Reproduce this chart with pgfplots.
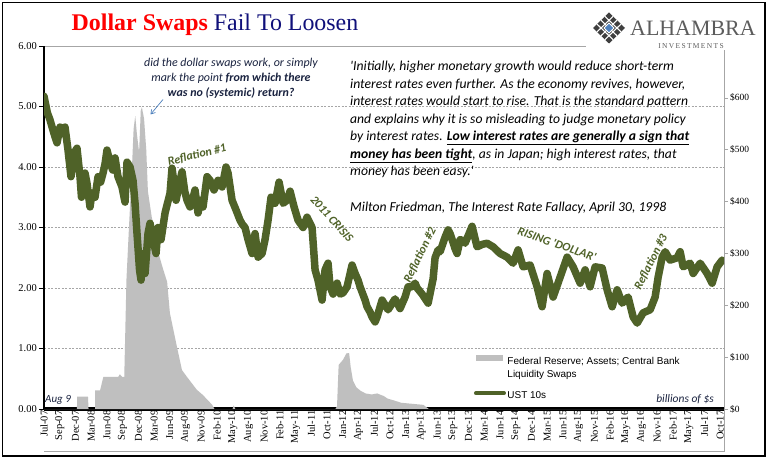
\documentclass[border=0pt]{standalone}
\usepackage{pgfplots}
\pgfplotsset{compat=1.18}
\usepackage{pgfplotstable}
\usepackage{fontspec}
\setmainfont{Liberation Serif}
\newfontfamily\calibri{Carlito}
\newfontfamily\arialf{Liberation Sans}
\usetikzlibrary{arrows.meta}

\definecolor{olivel}{HTML}{4F6228}
\definecolor{swapgray}{HTML}{BFBFBF}
\definecolor{navyt}{HTML}{10107A}
\definecolor{qtext}{HTML}{1A2340}
\definecolor{arrowblue}{HTML}{4F81BD}
\definecolor{gridgray}{HTML}{A6A6A6}
\definecolor{framegray}{HTML}{A6A6A6}
\definecolor{logogray}{HTML}{3F3F3F}

% UST 10-year yield (%), x = months since Jul 2007
\pgfplotstableread{
m v
0 5.17
0.6 4.90
1.09 4.78
1.6 4.62
2.0 4.50
2.37 4.40
2.91 4.66
3.4 4.55
3.82 4.66
4.37 4.28
4.91 3.84
5.46 4.23
6.0 4.31
6.55 3.84
6.82 3.50
7.46 3.90
7.82 3.73
8.37 3.34
8.73 3.57
9.28 3.50
9.83 3.84
10.3 3.75
10.74 3.90
11.1 4.05
11.46 4.28
12.0 4.08
12.5 3.95
12.92 4.15
13.46 3.84
14.19 3.67
14.74 3.42
15.1 4.08
15.65 4.00
16.19 3.78
16.56 3.40
16.92 2.90
17.38 2.30
17.65 2.13
18.01 2.57
18.38 2.24
18.92 2.90
19.29 3.07
19.83 2.80
20.38 2.57
20.74 3.00
21.29 2.80
22.02 3.24
22.93 3.57
23.29 3.98
23.7 3.70
24.02 3.45
24.75 3.78
25.11 3.92
25.6 3.60
26.02 3.45
26.56 3.34
27.0 3.45
27.47 3.62
28.02 3.24
28.5 3.45
28.93 3.34
29.66 3.84
30.2 3.78
30.93 3.62
31.66 3.78
32.39 3.67
33.11 4.00
33.48 3.90
34.21 3.45
34.93 3.29
35.66 3.12
36.1 3.05
36.57 3.00
37.12 2.80
37.85 2.57
38.39 2.90
38.94 2.51
39.67 2.57
40.21 2.80
40.76 3.12
41.3 3.50
42.03 3.40
42.76 3.75
43.49 3.40
44.21 3.45
44.76 3.60
45.49 3.34
46.22 3.12
47.13 3.00
47.85 3.17
48.76 3.00
49.31 2.30
49.85 2.13
50.58 1.80
51.13 2.30
51.67 2.41
52.04 2.02
52.58 1.90
53.31 2.08
53.86 1.90
54.4 1.92
55.13 2.02
56.04 2.38
56.59 2.24
57.13 2.13
57.5 2.02
58.41 1.80
58.77 1.69
59.32 1.60
59.68 1.52
60.23 1.44
60.59 1.52
61.14 1.69
61.5 1.80
62.59 1.64
63.86 1.82
64.77 1.66
65.68 1.85
66.23 2.02
66.96 2.02
67.5 2.08
67.87 2.00
68.78 1.90
69.87 1.75
70.78 2.15
71.14 2.50
71.69 2.63
72.05 2.60
72.96 2.84
73.51 2.96
73.87 2.90
74.78 2.65
75.15 2.57
75.69 2.80
76.24 2.78
76.6 2.74
77.87 3.02
78.78 2.68
79.7 2.72
80.6 2.74
81.7 2.68
82.97 2.57
84.24 2.51
85.33 2.41
86.24 2.63
87.15 2.35
88.43 2.38
89.7 2.02
90.61 1.69
91.52 2.24
92.61 1.85
93.89 2.18
95.16 2.51
96.25 2.35
97.53 2.08
98.44 2.30
99.34 2.02
100.25 2.35
101.53 2.33
102.44 1.97
103.35 1.69
104.26 1.97
105.17 1.75
106.26 1.85
107.17 1.52
107.9 1.42
108.99 1.59
110.26 1.64
111.17 1.85
111.72 2.18
112.45 2.51
113.0 2.60
113.9 2.46
115.18 2.50
115.72 2.60
116.27 2.35
117.54 2.41
118.09 2.24
119.36 2.41
120.63 2.24
121.54 2.08
122.45 2.35
123.36 2.46
}\ustdata

% Fed central bank liquidity swaps (billions of $)
\pgfplotstableread{
m s
0 0
6.0 0
6.01 24
8.0 24
8.1 0
9.28 0
9.3 36
10.2 36
10.8 62
13.5 62
13.8 67
14.2 62
14.6 62
15.0 250
15.5 360
16.0 465
16.3 540
16.6 565
16.9 530
17.3 495
17.6 575
17.8 582
18.2 560
18.6 500
18.9 420
19.6 370
20.2 340
20.7 305
21.6 272
22.4 245
22.9 185
24.2 119
25.1 75
26.0 62
27.8 37
28.9 27
30.6 8
31.0 0
34.3 0
34.5 7
34.8 0
53.0 0
53.3 5
53.6 85
54.4 95
55.0 107
55.5 108
55.8 80
56.2 55
56.8 42
57.6 35
58.5 30
59.6 28
60.6 30
61.8 25
62.5 20
63.5 17
65.0 12
67.0 10
69.0 8
70.0 0
123.7 0
}\swapdata

\begin{document}
\begin{tikzpicture}
\begin{scope}[x=1bp,y=-1bp,shift={(0bp,461bp)}]
\useasboundingbox (0,0) rectangle (769,461);
\fill[white] (0,0) rectangle (769,461);
\draw[framegray, line width=0.8bp] (44,46) -- (724,46) -- (724,451) -- (44,451);
\end{scope}

% axis 1: left scale, grid, x labels
\begin{axis}[at={(44bp,52bp)}, anchor=south west, scale only axis,
  width=680bp, height=363bp,
  xmin=0, xmax=123.7, ymin=0, ymax=6,
  axis x line*=bottom, axis y line*=left,
  x axis line style={black, line width=3.5bp, -},
  y axis line style={black, line width=1.2bp, -},
  ytick={0,1,...,6}, yticklabels={0.00,1.00,2.00,3.00,4.00,5.00,6.00},
  ymajorgrids, major grid style={gridgray, dash pattern=on 2bp off 1.5bp, line width=0.6bp},
  xtick={0,2.860465,...,123.1},
  xticklabels={Jul-07,Sep-07,Dec-07,Mar-08,Jun-08,Sep-08,Dec-08,Mar-09,Jun-09,Aug-09,Nov-09,Feb-10,May-10,Aug-10,Nov-10,Feb-11,May-11,Jul-11,Oct-11,Jan-12,Apr-12,Jul-12,Oct-12,Jan-13,Apr-13,Jun-13,Sep-13,Dec-13,Mar-14,Jun-14,Sep-14,Dec-14,Mar-15,Jun-15,Aug-15,Nov-15,Feb-16,May-16,Aug-16,Nov-16,Feb-17,May-17,Jul-17,Oct-17},
  xticklabel style={rotate=90, anchor=east, font=\fontsize{10.5}{12}\selectfont, inner sep=1.5bp},
  yticklabel style={font=\fontsize{10.5}{12}\selectfont, inner sep=2bp},
  xtick style={draw=none}, xtick align=inside,
  ytick style={black, line width=0.6bp}, ytick align=outside,
  major tick length=5bp,
]
\end{axis}

% axis 2: swaps (right scale)
\begin{axis}[at={(44bp,52bp)}, anchor=south west, scale only axis,
  width=680bp, height=363bp,
  xmin=0, xmax=123.7, ymin=0, ymax=700,
  axis x line=none, axis y line*=right,
  y axis line style={framegray, line width=0.8bp, -},
  ytick={0,100,...,600}, yticklabels={\$0,\$100,\$200,\$300,\$400,\$500,\$600},
  yticklabel style={font=\fontsize{9.5}{11}\selectfont, inner sep=2bp},
  ytick style={framegray, line width=0.6bp}, tick align=outside, major tick length=4bp,
]
\addplot[fill=swapgray, draw=none] table[x=m,y=s]{\swapdata} \closedcycle;
\end{axis}

% axis 3: UST 10s line + legend
\begin{axis}[at={(44bp,52bp)}, anchor=south west, scale only axis,
  width=680bp, height=363bp,
  xmin=0, xmax=123.7, ymin=0, ymax=6, hide axis,
  legend style={at={(0.632,0.153)}, anchor=north west, draw=none, fill=none,
    font=\arialf\fontsize{10}{13}\selectfont, row sep=23bp, inner sep=0pt,
    nodes={inner sep=1.5bp}},
  legend cell align=left,
]
\addlegendimage{legend image code/.code={\fill[swapgray] (0bp,0bp) rectangle (26bp,5.5bp);}}
\addlegendentry{\begin{tabular}[t]{@{}l@{}}Federal Reserve; Assets; Central Bank\\Liquidity Swaps\end{tabular}}
\addplot[olivel, line width=7.5bp, line join=round, line cap=round,
  legend image code/.code={\draw[olivel, line width=4bp] (0bp,2.8bp) -- (28bp,2.8bp);}]
  table[x=m,y=v]{\ustdata};
\addlegendentry{UST 10s}
\end{axis}

\begin{scope}[x=1bp,y=-1bp,shift={(0bp,461bp)}]
% title
\node[anchor=base, font=\fontsize{24}{28}\selectfont] at (215,31)
  {\textcolor{red}{\bfseries Dollar Swaps} \textcolor{navyt}{Fail To Loosen}};

% logo
\fill[white] (586,4) rectangle (758,50);
\fill[logogray] (609,12.5) -- (625,28) -- (609,43.5) -- (593,28) -- cycle;
\begin{scope}[white, line width=1.1bp]
\draw (601,20.25) -- (617,35.75);
\draw (617,20.25) -- (601,35.75);
\draw (605,16.4) -- (621,31.9);
\draw (613,16.4) -- (597,31.9);
\draw (597,24.1) -- (613,39.6);
\draw (621,24.1) -- (605,39.6);
\end{scope}
\fill[arrowblue, draw=white, line width=0.8bp] (609,23) -- (614,28) -- (609,33) -- (604,28) -- cycle;
\node[anchor=base west, inner sep=0, text=logogray!85, font=\fontsize{22}{24}\selectfont] at (630,36) {ALHAMBRA};
\node[anchor=base, inner sep=0, text=logogray!85, font=\fontsize{7.5}{8}\selectfont\addfontfeature{LetterSpace=18}] at (691,48.5) {INVESTMENTS};

% question annotation
\begin{scope}[font=\calibri\itshape\fontsize{12}{13}\selectfont, text=qtext]
\node[anchor=base, inner sep=0] at (231,66.7) {did the dollar swaps work, or simply};
\node[anchor=base, inner sep=0] at (231,81.7) {mark the point {\bfseries from which there}};
\node[anchor=base, inner sep=0] at (231,96.7) {\bfseries was no (systemic) return?};
\end{scope}
\draw[arrowblue, line width=0.7bp, -{Straight Barb[length=4bp,width=5bp]}] (163,99.5) -- (150.5,114.5);

% quote
\begin{scope}[font=\calibri\itshape\fontsize{13.7}{15}\selectfont, text=black]
\node[anchor=base west, inner sep=0] at (350,71) {'Initially, higher monetary growth would reduce short-term};
\node[anchor=base west, inner sep=0] at (350,88.5) {interest rates even further. As the economy revives, however,};
\node[anchor=base west, inner sep=0] at (350,106) {interest rates would start to rise. That is the standard pattern};
\node[anchor=base west, inner sep=0] at (350,123.5) {and explains why it is  so misleading to judge monetary policy};
\node[anchor=base west, inner sep=0] at (350,141) {by interest rates. \underline{\bfseries Low interest rates are generally a sign that}};
\node[anchor=base west, inner sep=0] at (350,158.5) {\underline{\bfseries money has been tight}, as in Japan; high interest rates, that};
\node[anchor=base west, inner sep=0] at (350,176) {money has been easy.'};
\node[anchor=base west, inner sep=0] at (350,212) {Milton Friedman, The Interest Rate Fallacy, April 30,  1998};
\end{scope}

% olive labels
\begin{scope}[font=\calibri\itshape\bfseries\fontsize{12}{13}\selectfont, text=olivel, inner sep=0]
\node[rotate=14] at (197,155) {Reflation \#1};
\node[rotate=-48] at (332,219) {2011 CRISIS};
\node[rotate=64] at (420,255) {Reflation \#2};
\node[rotate=-19] at (557,244) {RISING 'DOLLAR'};
\node[rotate=63] at (651,262) {Reflation \#3};
\end{scope}

\node[anchor=base west, inner sep=0, text=qtext, font=\calibri\itshape\fontsize{11}{12}\selectfont] at (45,403) {Aug 9};
\node[anchor=base east, inner sep=0, text=qtext, font=\calibri\itshape\fontsize{11.5}{12}\selectfont] at (714,403) {billions of \$s};

\draw[black, line width=1.3bp] (2.5,2.5) rectangle (765,456);
\end{scope}
\end{tikzpicture}
\end{document}
